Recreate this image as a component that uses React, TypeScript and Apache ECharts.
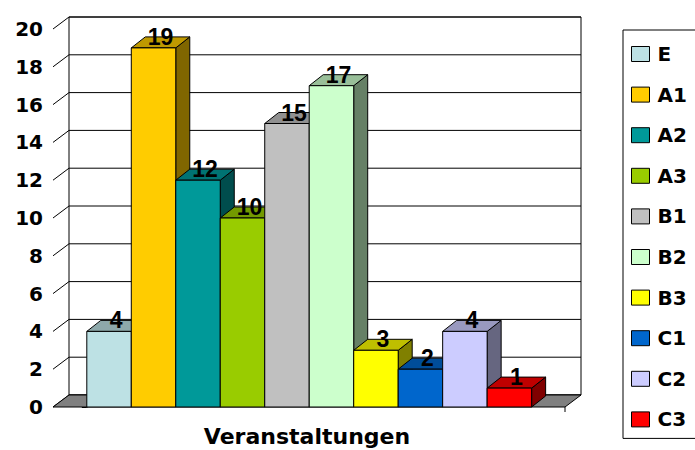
import React, { useEffect, useRef } from "react";
import * as echarts from "echarts";

const CATEGORIES = ["E", "A1", "A2", "A3", "B1", "B2", "B3", "C1", "C2", "C3"];
const VALUES = [4, 19, 12, 10, 15, 17, 3, 2, 4, 1];
const COLORS = ["#BDE1E4", "#FFCC00", "#009999", "#99CC00", "#C0C0C0", "#CCFFCC", "#FFFF00", "#0066CC", "#CCCCFF", "#FF0000"];
const Y_MIN = 0;
const Y_MAX = 20;
const Y_STEP = 2;
const X_TITLE = "Veranstaltungen";

const XMIN = -0.76;
const XMAX = 10.75;
const DX = 14, DY = -11; // bar depth
const DXW = 16, DYW = -12; // wall depth

function shade(hex: string, f: number): string {
  const n = parseInt(hex.slice(1), 16);
  const r = Math.round(((n >> 16) & 255) * f);
  const g = Math.round(((n >> 8) & 255) * f);
  const b = Math.round((n & 255) * f);
  return `rgb(${r},${g},${b})`;
}

export default function App() {
  const ref = useRef<HTMLDivElement>(null);
  useEffect(() => {
    if (!ref.current) return;
    const chart = echarts.init(ref.current, null, { renderer: "svg" });
    const stroke = { stroke: "#000", lineWidth: 1 };

    const frameSeries: any = {
      type: "custom",
      name: "__frame",
      silent: true,
      data: [[0, 0]],
      renderItem: (params: any, api: any) => {
        const L = api.coord([XMIN, Y_MIN])[0];
        const R = api.coord([XMAX, Y_MIN])[0];
        const yb = api.coord([XMIN, Y_MIN])[1];
        const yt = api.coord([XMIN, Y_MAX])[1];
        const children: any[] = [];
        children.push({
          type: "rect",
          shape: { x: L + DXW, y: yt + DYW, width: R - L, height: yb - yt },
          style: { fill: "#fff", ...stroke },
        });
        for (let v = Y_MIN; v <= Y_MAX; v += Y_STEP) {
          const y = api.coord([XMIN, v])[1];
          children.push({
            type: "line",
            shape: { x1: L + DXW, y1: y + DYW, x2: R + DXW, y2: y + DYW },
            style: { ...stroke },
          });
          children.push({
            type: "line",
            shape: { x1: L, y1: y, x2: L + DXW, y2: y + DYW },
            style: { ...stroke },
          });
        }
        children.push({
          type: "polygon",
          shape: { points: [[L, yb], [R, yb], [R + DXW, yb + DYW], [L + DXW, yb + DYW]] },
          style: { fill: "#808080", ...stroke },
        });
        children.push({
          type: "line",
          shape: { x1: R, y1: yb, x2: R, y2: yb + 5 },
          style: { ...stroke },
        });
        return { type: "group", children };
      },
    };

    const barSeries = CATEGORIES.map((name, i) => ({
      type: "custom",
      name,
      itemStyle: { color: COLORS[i] },
      data: [[i, VALUES[i]]],
      renderItem: (params: any, api: any) => {
        const x = api.value(0);
        const v = api.value(1);
        const p0 = api.coord([x, 0]);
        const p1 = api.coord([x + 1, v]);
        const l = p0[0], r = p1[0], b = p0[1], t = p1[1];
        const c = COLORS[i];
        return {
          type: "group",
          children: [
            {
              type: "polygon",
              shape: { points: [[r, t], [r + DX, t + DY], [r + DX, b + DY], [r, b]] },
              style: { fill: shade(c, 0.5), ...stroke },
            },
            {
              type: "polygon",
              shape: { points: [[l, t], [l + DX, t + DY], [r + DX, t + DY], [r, t]] },
              style: { fill: shade(c, 0.75), ...stroke },
            },
            {
              type: "rect",
              shape: { x: l, y: t, width: r - l, height: b - t },
              style: { fill: c, ...stroke },
            },
            {
              type: "text",
              z2: 100,
              style: {
                text: String(v),
                x: (l + r + DX) / 2,
                y: t - 11,
                align: "center",
                verticalAlign: "middle",
                fill: "#000",
                fontSize: 23,
                fontWeight: "bold",
                fontFamily: "Liberation Sans, Arial, sans-serif",
              },
            },
          ],
        };
      },
    }));

    chart.setOption({
      animation: false,
      backgroundColor: "#fff",
      grid: { left: 53, top: 29, width: 512, height: 378 },
      xAxis: { type: "value", min: XMIN, max: XMAX, show: false },
      yAxis: {
        type: "value",
        min: Y_MIN,
        max: Y_MAX,
        interval: Y_STEP,
        axisLine: { show: true, lineStyle: { color: "#000", width: 1 } },
        axisTick: { show: true, length: 5, lineStyle: { color: "#000" } },
        splitLine: { show: false },
        axisLabel: {
          color: "#000",
          fontFamily: "DejaVu Sans",
          fontWeight: "bold",
          fontSize: 20,
          margin: 10,
        },
      },
      legend: {
        data: CATEGORIES,
        orient: "vertical",
        left: 623,
        top: 30,
        icon: "rect",
        itemWidth: 18,
        itemHeight: 15,
        itemGap: 20.6,
        padding: [14, 12, 9, 8],
        borderColor: "#000",
        borderWidth: 1,
        backgroundColor: "#fff",
        itemStyle: { borderColor: "#000", borderWidth: 1 },
        textStyle: {
          color: "#000",
          fontFamily: "DejaVu Sans",
          fontWeight: "bold",
          fontSize: 20,
          lineHeight: 20,
          padding: [0, 0, 0, 3],
        },
        selectedMode: false,
      },
      graphic: [
        {
          type: "text",
          style: {
            text: X_TITLE,
            x: 307,
            y: 436,
            align: "center",
            verticalAlign: "middle",
            fill: "#000",
            fontFamily: "DejaVu Sans",
            fontWeight: "bold",
            fontSize: 22,
          },
        },
      ],
      series: [frameSeries, ...barSeries],
    });
    return () => chart.dispose();
  }, []);
  return (
    <div
      ref={ref}
      style={{ position: "absolute", left: 0, top: 0, width: 695, height: 450 }}
    />
  );
}
